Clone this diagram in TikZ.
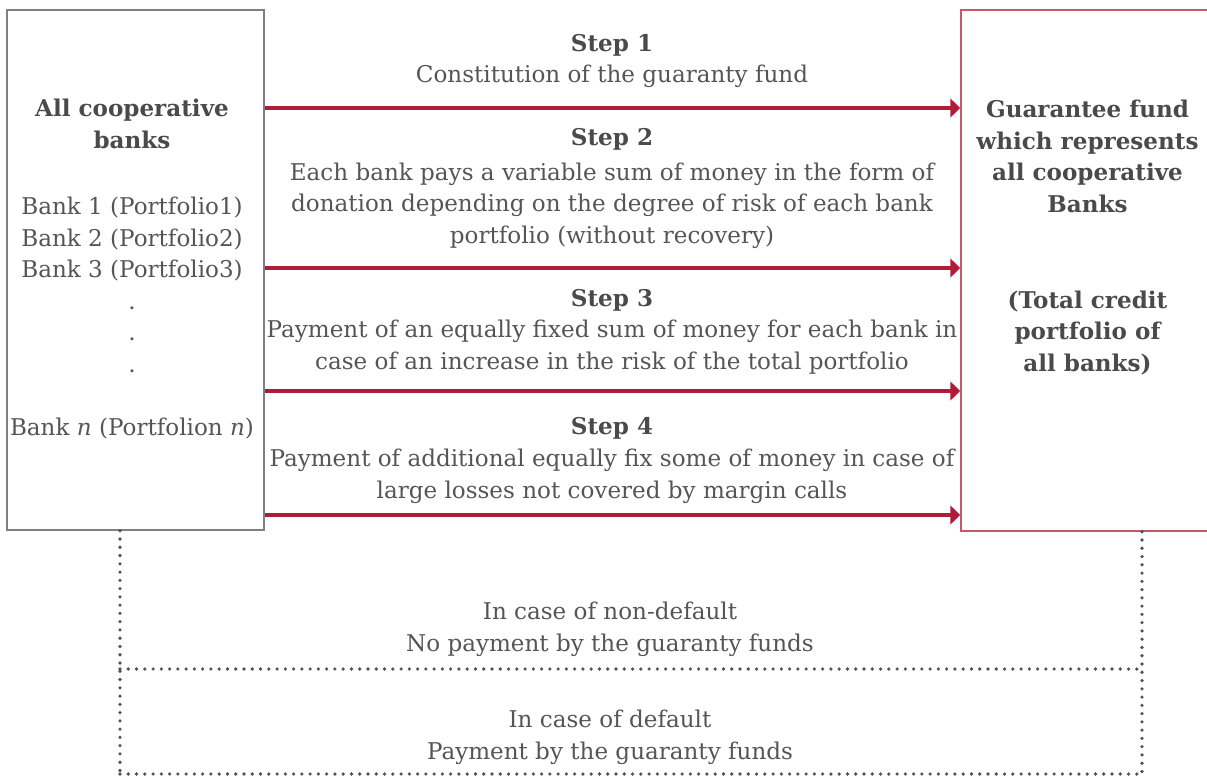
\documentclass[tikz,border=0pt]{standalone}
\usepackage{fontspec}
\setmainfont{DejaVu Serif}
\usetikzlibrary{arrows.meta}
\definecolor{txt}{HTML}{555555}
\definecolor{hdr}{HTML}{4A4A4A}
\definecolor{arrowred}{HTML}{B01C38}
\definecolor{fundred}{HTML}{C25A6B}
\definecolor{boxgray}{HTML}{808080}
\definecolor{dotgray}{HTML}{4E525A}
\newcommand\diagfont{\fontsize{17.3}{23.6}\selectfont}
\begin{document}
\begin{tikzpicture}[x=0.75pt,y=-0.75pt,
  lbl/.style={text=txt, font=\diagfont, align=center, inner sep=0pt, anchor=base},
  hdrlbl/.style={lbl, text=hdr, font=\diagfont\bfseries},
  flow/.style={draw=arrowred, line width=2.5pt, -{Triangle[length=7.5pt,width=14pt]}},
  dotline/.style={draw=dotgray, line width=2.7pt, line cap=round, dash pattern=on 0pt off 6.2pt}]
\useasboundingbox (0,0) rectangle (1207,776);
% boxes
\node[draw=boxgray, line width=1.1pt, minimum width=192.75pt, minimum height=390pt, inner sep=0pt] (L) at (135.5,270) {};
\node[draw=fundred, line width=1.1pt, minimum width=189.75pt, minimum height=390.75pt, inner sep=0pt] (R) at (1087.5,270.5) {};
% left box text (anchor base = last line baseline)
\node[hdrlbl] (lh) at (132,148) {All cooperative\\banks};
\node[lbl] (ll) at (132,435) {Bank 1 (Portfolio1)\\Bank 2 (Portfolio2)\\Bank 3 (Portfolio3)\\.\\.\\.\\[23.6pt]Bank \textit{n} (Portfolion \textit{n})};
% right box text
\node[hdrlbl] (rh) at (1087.5,212) {Guarantee fund\\which represents\\all cooperative\\Banks};
\node[hdrlbl] (rp) at (1087.5,371) {(Total credit\\portfolio of\\all banks)};
% arrow levels
\coordinate (a1) at (0,108);
\coordinate (a2) at (0,268);
\coordinate (a3) at (0,391);
\coordinate (a4) at (0,515);
\draw[flow] (L.east |- a1) -- (R.west |- a1);
\draw[flow] (L.east |- a2) -- (R.west |- a2);
\draw[flow] (L.east |- a3) -- (R.west |- a3);
\draw[flow] (L.east |- a4) -- (R.west |- a4);
% step texts
\node[hdrlbl] (s1h) at (612,51) {Step 1};
\node[lbl] (s1) at (612,82) {Constitution of the guaranty fund};
\node[hdrlbl] (s2h) at (612,145) {Step 2};
\node[lbl] (s2) at (612,243) {Each bank pays a variable sum of money in the form of\\donation depending on the degree of risk of each bank\\portfolio (without recovery)};
\node[hdrlbl] (s3h) at (612,306) {Step 3};
\node[lbl] (s3) at (612,369) {Payment of an equally fixed sum of money for each bank in\\case of an increase in the risk of the total portfolio};
\node[hdrlbl] (s4h) at (612,434) {Step 4};
\node[lbl] (s4) at (612,498) {Payment of additional equally fix some of money in case of\\large losses not covered by margin calls};
% dotted outcome frame
\coordinate (d1) at (120,669);
\coordinate (d2) at (1142,669);
\coordinate (b1) at (120,774);
\coordinate (b2) at (1142,774);
\draw[dotline] (L.south -| d1) -- (b1);
\draw[dotline] (R.south -| d2) -- (b2);
\draw[dotline] (d1) -- (d2);
\draw[dotline] (b1) -- (b2);
\node[lbl] (nd) at (610,651) {In case of non-default\\No payment by the guaranty funds};
\node[lbl] (df) at (610,759) {In case of default\\Payment by the guaranty funds};
\end{tikzpicture}
\end{document}
